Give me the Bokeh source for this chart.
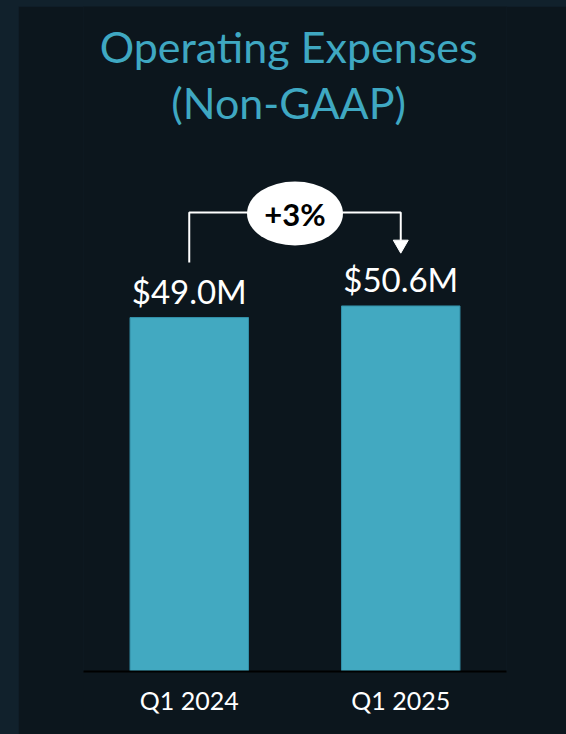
from bokeh.plotting import figure
from bokeh.models import Range1d, FactorRange, ColumnDataSource, Spacer
from bokeh.layouts import row, column
from bokeh.transform import dodge
from bokeh.core.properties import value
from bokeh.embed import file_html
from bokeh.resources import INLINE

# ---- data ----
categories = ["Q1 2024", "Q1 2025"]
opex_musd = [49.0, 50.6]
title_lines = ["Operating Expenses", "(Non-GAAP)"]

labels = [f"${v:.1f}M" for v in opex_musd]
growth = (opex_musd[1] / opex_musd[0] - 1) * 100
growth_label = f"+{growth:.0f}%"

# ---- style ----
OUTER = "#11212c"
PANEL = "#0c161d"
BAR = "#42a9c1"
BAR_EDGE = "#3390a8"
TITLE_C = "#3fa8c2"
FONT = "Lato"

W, H = 548, 728            # figure placed at page (18, 6)
FRAME_H = 665              # frame bottom at page y 671
PX_PER_UNIT = 7.224
Y_END = FRAME_H / PX_PER_UNIT
def py(page_y):
    return (671 - page_y) / PX_PER_UNIT

p = figure(width=W, height=H, x_range=FactorRange(*categories, range_padding=0),
           y_range=Range1d(0, Y_END), output_backend="svg", toolbar_location=None,
           min_border_left=65, min_border_right=60, min_border_top=0, min_border_bottom=63)
p.background_fill_color = PANEL
p.border_fill_color = PANEL
p.outline_line_color = None
p.grid.visible = False
p.yaxis.visible = False

src = ColumnDataSource(dict(cat=categories, val=opex_musd, lab=labels))
p.vbar(x="cat", top="val", width=0.56, source=src, fill_color=BAR,
       line_color=BAR_EDGE, line_width=1)
p.text(x="cat", y="val", text="lab", source=src, y_offset=-27,
       text_align="center", text_baseline="alphabetic", text_color="white",
       text_font=value(FONT), text_font_size="33px")

# x axis
ax = p.xaxis[0]
ax.axis_line_color = "black"
ax.axis_line_width = 2
ax.major_tick_line_color = None
ax.minor_tick_line_color = None
ax.major_tick_out = 0
ax.major_label_standoff = 13
ax.major_label_text_color = "white"
ax.major_label_text_font = FONT
ax.major_label_text_font_size = "25px"

# titles
tsrc = ColumnDataSource(dict(c=[categories[0]] * 2, t=title_lines,
                             y=[py(63 - 17), py(119 - 17)]))
p.text(x=dodge("c", 0.47, range=p.x_range), y="y", text="t", source=tsrc,
       text_align="center", text_baseline="alphabetic", text_color=TITLE_C,
       text_font=value(FONT), text_font_size="43px")

# growth bracket
y_top = py(212)
p.line(x=[categories[0], categories[0], categories[1], categories[1]],
       y=[py(262), y_top, y_top, py(240)], line_color="white", line_width=2)
p.scatter(x=[categories[1]], y=[py(244)], marker="inverted_triangle", size=15,
          fill_color="white", line_color="white")
esrc = ColumnDataSource(dict(c=[categories[0]], y=[py(213)], t=[growth_label]))
p.ellipse(x=dodge("c", 0.5, range=p.x_range), y="y", width=96, height=64,
          width_units="screen", height_units="screen", source=esrc,
          fill_color="white", line_color=None)
p.text(x=dodge("c", 0.5, range=p.x_range), y="y", text="t", source=esrc,
       text_align="center", text_baseline="middle", text_color="black",
       text_font=value(FONT), text_font_style="bold", text_font_size="31px")

layout = row(Spacer(width=18, height=734),
             column(Spacer(width=W, height=6), p))
html = file_html(layout, INLINE)
style = ("<style>html, body { margin: 0 !important; padding: 0 !important; "
         f"background: {OUTER} !important; }}</style>")
html = html.replace("</head>", style + "</head>", 1)
open("out.html", "w").write(html)
